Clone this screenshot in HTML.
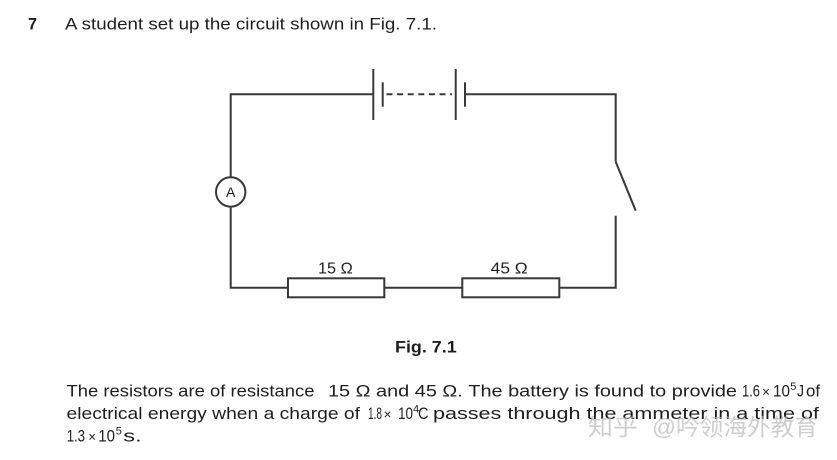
<!DOCTYPE html>
<html>
<head>
<meta charset="utf-8">
<style>
  html, body { margin: 0; padding: 0; background: #ffffff; }
  body { width: 837px; height: 460px; overflow: hidden; }
  svg { display: block; }
  .t { font-family: "Liberation Sans", Arial, sans-serif; fill: #1e1e1e; }
  .b { font-weight: bold; }
  .wm { font-family: "Liberation Sans", "Noto Sans CJK SC", "WenQuanYi Zen Hei", sans-serif; fill: #b8b8b8; fill-opacity: 0.7; }
</style>
</head>
<body>
<svg width="837" height="460" viewBox="0 0 837 460" xmlns="http://www.w3.org/2000/svg">
  <rect x="0" y="0" width="837" height="460" fill="#ffffff"/>

  <!-- Title -->
  <text class="t b" x="28" y="29.3" font-size="17" textLength="9" lengthAdjust="spacingAndGlyphs">7</text>
  <text class="t" x="65" y="29.3" font-size="16.5" textLength="372" lengthAdjust="spacingAndGlyphs">A student set up the circuit shown in Fig. 7.1.</text>

  <!-- Circuit -->
  <g stroke="#383838" stroke-width="2" fill="none" stroke-linecap="butt">
    <polyline points="373.3,94.3 230.7,94.3 230.7,177"/>
    <circle cx="230.7" cy="192" r="14.7" fill="#ffffff"/>
    <polyline points="230.7,206.7 230.7,287.7 288,287.7"/>
    <rect x="288" y="278.3" width="96.3" height="19" fill="#ffffff"/>
    <line x1="384.3" y1="287.7" x2="462.3" y2="287.7"/>
    <rect x="462.3" y="278.3" width="97" height="19" fill="#ffffff"/>
    <polyline points="559.3,287.7 615.7,287.7 615.7,215.7"/>
    <line x1="615.7" y1="161.7" x2="635.7" y2="210.7"/>
    <polyline points="615.7,161.7 615.7,94.3 465,94.3"/>
    <line x1="373.3" y1="69" x2="373.3" y2="120"/>
    <line x1="382.7" y1="82.3" x2="382.7" y2="106.7"/>
    <line x1="386.5" y1="94.3" x2="452" y2="94.3" stroke-dasharray="6,4.6"/>
    <line x1="455.7" y1="69" x2="455.7" y2="120"/>
    <line x1="465" y1="82.3" x2="465" y2="106.7"/>
  </g>
  <text class="t" x="230.7" y="197" font-size="14" text-anchor="middle">A</text>

  <!-- Resistor labels -->
  <text class="t" x="318" y="273.3" font-size="16" textLength="34.7" lengthAdjust="spacingAndGlyphs">15 Ω</text>
  <text class="t" x="490.7" y="273.3" font-size="16" textLength="37" lengthAdjust="spacingAndGlyphs">45 Ω</text>

  <!-- Figure caption -->
  <text class="t b" x="395" y="352.7" font-size="17" textLength="61.7" lengthAdjust="spacingAndGlyphs">Fig. 7.1</text>

  <!-- Paragraph line 1 -->
  <text class="t" x="66.5" y="396.7" font-size="16.5" textLength="248" lengthAdjust="spacingAndGlyphs">The resistors are of resistance</text>
  <text class="t" x="328" y="396.7" font-size="16.5" textLength="409" lengthAdjust="spacingAndGlyphs">15 Ω and 45 Ω. The battery is found to provide</text>
  <text class="t" x="742" y="396.7" font-size="16.5" textLength="18" lengthAdjust="spacingAndGlyphs">1.6</text>
  <text class="t" x="762" y="396.7" font-size="14" textLength="8" lengthAdjust="spacingAndGlyphs">×</text>
  <text class="t" x="773" y="396.7" font-size="16.5" textLength="17" lengthAdjust="spacingAndGlyphs">10</text>
  <text class="t" x="790.3" y="390" font-size="11">5</text>
  <text class="t" x="797" y="396.7" font-size="16.5" textLength="7" lengthAdjust="spacingAndGlyphs">J</text>
  <text class="t" x="806" y="396.7" font-size="16.5" textLength="14" lengthAdjust="spacingAndGlyphs">of</text>

  <!-- Paragraph line 2 -->
  <text class="t" x="66.5" y="419" font-size="16.5" textLength="293.5" lengthAdjust="spacingAndGlyphs">electrical energy when a charge of</text>
  <text class="t" x="368" y="419" font-size="16.5" textLength="14" lengthAdjust="spacingAndGlyphs">1.8</text>
  <text class="t" x="383.5" y="419" font-size="14" textLength="8" lengthAdjust="spacingAndGlyphs">×</text>
  <text class="t" x="398" y="419" font-size="16.5" textLength="15" lengthAdjust="spacingAndGlyphs">10</text>
  <text class="t" x="413" y="412.3" font-size="11">4</text>
  <text class="t" x="418" y="419" font-size="16.5" textLength="10.5" lengthAdjust="spacingAndGlyphs">C</text>
  <text class="t" x="433" y="419" font-size="16.5" textLength="386" lengthAdjust="spacingAndGlyphs">passes through the ammeter in a time of</text>

  <!-- Paragraph line 3 -->
  <text class="t" x="66.7" y="441.3" font-size="16.5" textLength="18.3" lengthAdjust="spacingAndGlyphs">1.3</text>
  <text class="t" x="88.3" y="441.3" font-size="14" textLength="7.7" lengthAdjust="spacingAndGlyphs">×</text>
  <text class="t" x="98.3" y="441.3" font-size="16.5" textLength="16.7" lengthAdjust="spacingAndGlyphs">10</text>
  <text class="t" x="115.7" y="434.5" font-size="11">5</text>
  <text class="t" x="123.3" y="441.3" font-size="16.5" textLength="18.4" lengthAdjust="spacingAndGlyphs">s.</text>

  <!-- Watermark -->
  <text class="wm" x="588" y="435" font-size="23" textLength="50" lengthAdjust="spacingAndGlyphs">知乎</text>
  <text class="wm" x="652" y="435" font-size="23" textLength="166" lengthAdjust="spacingAndGlyphs">@吟领海外教育</text>
</svg>
</body>
</html>
